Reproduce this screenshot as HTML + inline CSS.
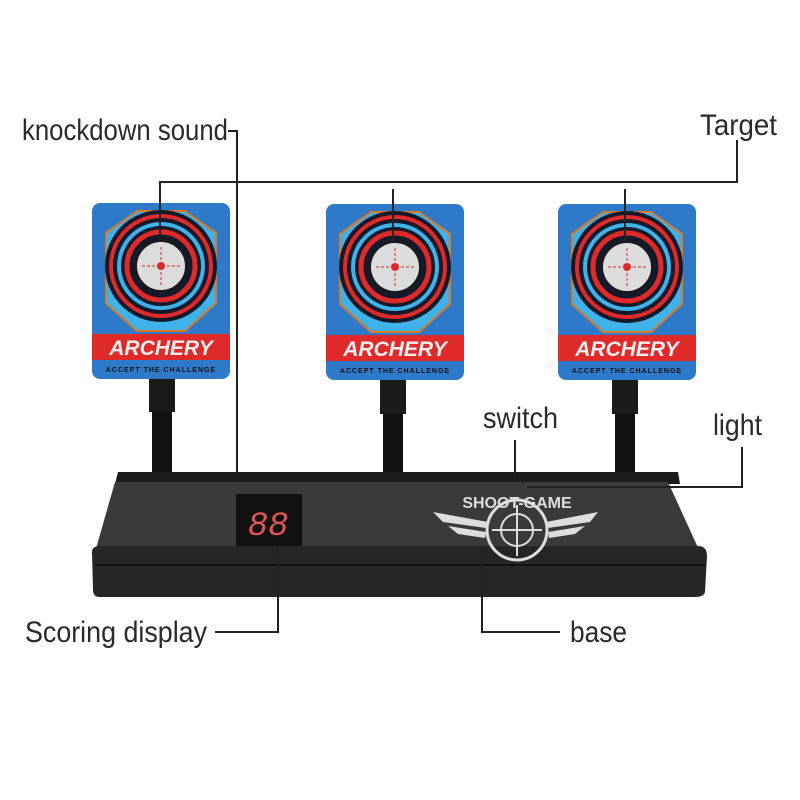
<!DOCTYPE html>
<html><head><meta charset="utf-8"><style>
html,body{margin:0;padding:0;background:#fff;width:800px;height:800px;overflow:hidden}
svg{display:block}
.lbl{font-family:"Liberation Sans",sans-serif;font-size:30px;fill:#2a2a2a}
</style></head><body>
<svg width="800" height="800" viewBox="0 0 800 800" xmlns="http://www.w3.org/2000/svg">
<defs>
<g id="card">
  <rect x="0" y="0" width="138" height="176" rx="8" fill="#2f79c9"/>
  <path d="M14 30 L45 8 L93 8 L124 30 L124 100 L93 128 L45 128 L14 100Z" fill="#3fb2ea" stroke="#d77a2a" stroke-width="2"/>
  <circle cx="69" cy="63" r="56" fill="#151a2a"/>
  <circle cx="69" cy="63" r="50" fill="none" stroke="#e02a2a" stroke-width="4"/>
  <circle cx="69" cy="63" r="42" fill="none" stroke="#3fb2ea" stroke-width="4"/>
  <circle cx="69" cy="63" r="34" fill="none" stroke="#e02a2a" stroke-width="5"/>
  <circle cx="69" cy="63" r="25" fill="#dcdcdc" stroke="#1a1a1a" stroke-width="2"/>
  <line x1="50" y1="63" x2="88" y2="63" stroke="#e02a2a" stroke-width="1" stroke-dasharray="3 2"/>
  <line x1="69" y1="44" x2="69" y2="82" stroke="#e02a2a" stroke-width="1" stroke-dasharray="3 2"/>
  <circle cx="69" cy="63" r="4" fill="#e02a2a"/>
  <rect x="0" y="131" width="138" height="26" fill="#e02a2a"/>
  <text x="69" y="152" text-anchor="middle" font-family="Liberation Sans" font-weight="bold" font-style="italic" font-size="21" fill="#f0f0f0">ARCHERY</text>
  <text x="69" y="169" text-anchor="middle" font-family="Liberation Sans" font-weight="bold" font-size="7" fill="#111" letter-spacing="1">ACCEPT THE CHALLENGE</text>
</g>
<g id="post">
  <rect x="-10" y="0" width="20" height="100" fill="#111"/>
  <rect x="-13" y="2" width="26" height="34" fill="#1a1a1a"/>
</g>
</defs>
<use href="#post" x="162" y="376"/>
<use href="#post" x="393" y="378"/>
<use href="#post" x="625" y="378"/>
<use href="#card" x="92" y="203"/>
<use href="#card" x="326" y="204"/>
<use href="#card" x="558" y="204"/>
<path d="M118 472 L678 472 L680 484 L115 484Z" fill="#1c1c1c"/>
<path d="M115 482 L668 482 L700 552 L95 552Z" fill="#3a3a3a"/>
<path d="M92 552 Q92 546 100 546 L698 546 Q707 546 707 556 L705 592 Q704 597 695 597 L100 597 Q93 597 93 590Z" fill="#262626"/>
<line x1="95" y1="565" x2="705" y2="565" stroke="#111" stroke-width="2"/>
<rect x="236" y="494" width="66" height="52" fill="#111"/>
<text x="268" y="535" text-anchor="middle" font-family="Liberation Mono" font-size="34" fill="#e05555" font-style="italic">88</text>
<text x="517" y="508" text-anchor="middle" font-family="Liberation Sans" font-weight="bold" font-size="16" fill="#ddd">SHOOT-GAME</text>
<path d="M433 512 L488 522 L486 528 L443 522Z M448 526 L486 532 L485 538 L458 534Z M598 512 L546 522 L548 528 L590 522Z M585 526 L548 532 L549 538 L575 534Z" fill="#ddd"/>
<circle cx="517" cy="530" r="30" fill="none" stroke="#ddd" stroke-width="3"/>
<circle cx="517" cy="530" r="16" fill="none" stroke="#ddd" stroke-width="2"/>
<line x1="517" y1="505" x2="517" y2="556" stroke="#ddd" stroke-width="2"/>
<line x1="492" y1="530" x2="542" y2="530" stroke="#ddd" stroke-width="2"/>
<g stroke="#222" stroke-width="2" fill="none">
<polyline points="228,131 237,131 237,475"/>
<polyline points="737,140 737,182 160,182 160,240"/>
<line x1="393" y1="189" x2="393" y2="240"/>
<line x1="625" y1="189" x2="625" y2="240"/>
<line x1="515" y1="440" x2="515" y2="476"/>
<polyline points="742,447 742,487 527,487"/>
<polyline points="278,547 278,632 215,632"/>
<polyline points="482,547 482,632 560,632"/>
</g>
<text class="lbl" x="22" y="140" textLength="206" lengthAdjust="spacingAndGlyphs">knockdown sound</text>
<text class="lbl" x="700" y="135" textLength="77" lengthAdjust="spacingAndGlyphs">Target</text>
<text class="lbl" x="483" y="428" textLength="75" lengthAdjust="spacingAndGlyphs">switch</text>
<text class="lbl" x="713" y="435" textLength="49" lengthAdjust="spacingAndGlyphs">light</text>
<text class="lbl" x="25" y="642" textLength="182" lengthAdjust="spacingAndGlyphs">Scoring display</text>
<text class="lbl" x="570" y="642" textLength="57" lengthAdjust="spacingAndGlyphs">base</text>
</svg>
</body></html>
